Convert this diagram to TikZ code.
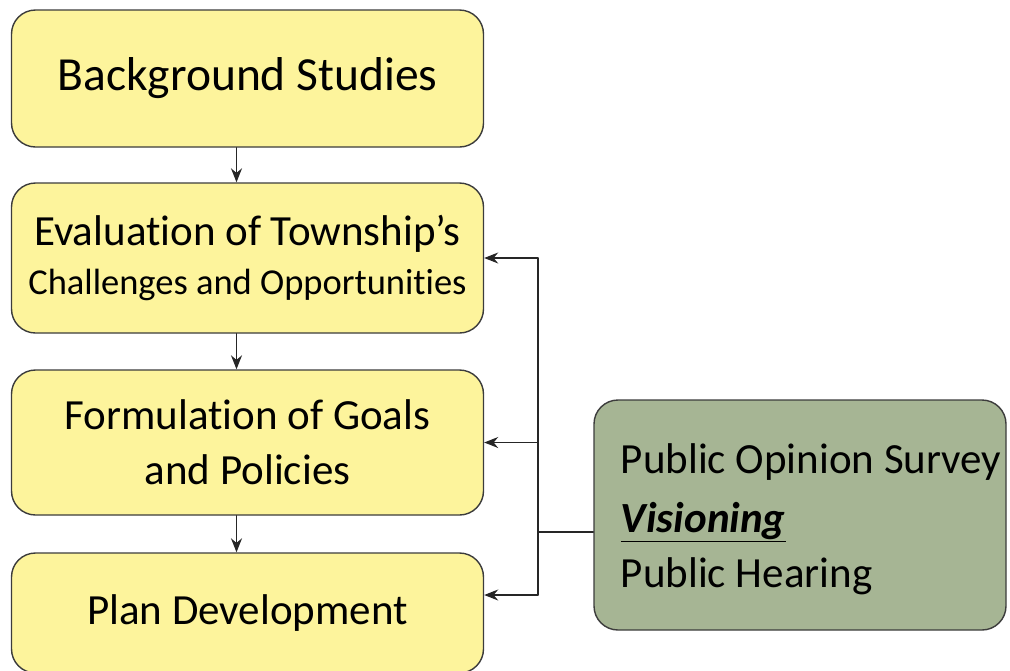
\documentclass[tikz,border=0pt]{standalone}
\usepackage{fontspec}
\setmainfont{Carlito}[Ligatures=NoCommon]
\usetikzlibrary{arrows.meta}
\definecolor{boxyellow}{RGB}{253,244,156}
\definecolor{boxgreen}{RGB}{166,181,148}
\definecolor{boxline}{RGB}{60,60,60}
\tikzset{
  stepbox/.style={draw=boxline, line width=1.4pt, rounded corners=24pt, fill=boxyellow, align=center, inner sep=0pt},
  inputbox/.style={stepbox, fill=boxgreen},
  arr/.style={-{Stealth[length=14pt,width=11pt]}, line width=1.3pt, draw=black!85},
  big/.style={font=\fontsize{43}{55}\selectfont}
}
\begin{document}
\begin{tikzpicture}[x=1pt, y=-1pt, line join=round, line cap=round]
	\useasboundingbox (0,0) rectangle (1010,670);
	\clip (0,0) rectangle (1010,670);
	\node[stepbox, minimum width=472pt, minimum height=137pt, font=\fontsize{47.5}{57}\selectfont] (bg) at (247.5,78.5) {Background Studies};
	\node[stepbox, minimum width=472pt, minimum height=150pt] (eval) at (247.5,258) {\fontsize{43}{48}\selectfont Evaluation of Township’s\\[16pt] \fontsize{36.5}{42}\selectfont Challenges and Opportunities};
	\node[stepbox, big, minimum width=472pt, minimum height=145pt] (goals) at (247.5,442.5) {Formulation of Goals\\and Policies};
	\node[stepbox, big, minimum width=472pt, minimum height=120pt] (plan) at (247.5,613) {Plan Development};
	\node[inputbox, minimum width=412pt, minimum height=230pt] (pub) at (800,515) {};
	\node[big, align=left, anchor=west] (pubtext) at ([xshift=24pt,yshift=-4pt]pub.west) {Public Opinion Survey\\[4pt]\underline{\textbf{\textit{Visioning}}}\\Public Hearing};
	% down the left column
	\draw[arr] ([xshift=-11pt]bg.south) -- ([xshift=-11pt]eval.north);
	\draw[arr] ([xshift=-11pt]eval.south) -- ([xshift=-11pt]goals.north);
	\draw[arr] ([xshift=-11pt]goals.south) -- ([xshift=-11pt]plan.north);
	% feedback from the public
	\coordinate (bus) at (538,532);
	\coordinate (planin) at ([yshift=18pt]plan.east);
	\draw[line width=1.3pt, draw=black!85] ([yshift=-17pt]pub.west) -- (bus);
	\draw[line width=1.3pt, draw=black!85] (bus |- eval.east) -- (bus |- planin);
	\draw[arr] (bus |- eval.east) -- (eval.east);
	\draw[arr] (bus |- goals.east) -- (goals.east);
	\draw[arr] (bus |- planin) -- (planin);
\end{tikzpicture}
\end{document}
